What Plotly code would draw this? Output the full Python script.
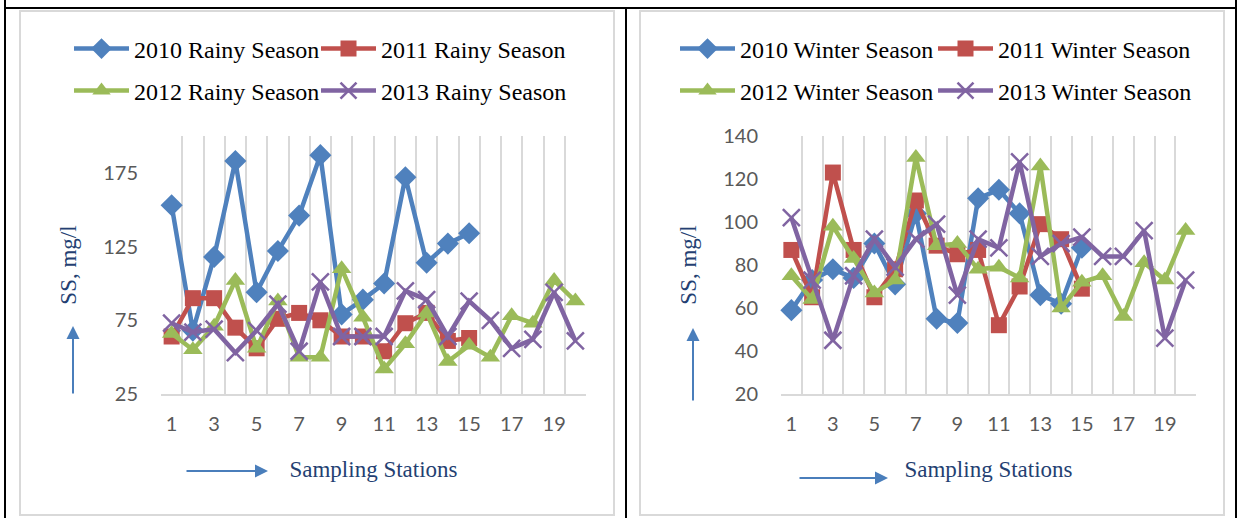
import plotly.graph_objects as go

W, H = 1239, 518

stations = list(range(1, 21))
x_ticks = [1, 3, 5, 7, 9, 11, 13, 15, 17, 19]

rainy_names = ["2010 Rainy Season", "2011 Rainy Season", "2012 Rainy Season", "2013 Rainy Season"]
rainy_2010 = [153, 68, 118, 183, 94, 122, 146, 187, 79, 89, 100, 172, 114, 127, 134]
rainy_2011 = [64, 90, 90, 70, 56, 76, 80, 75, 64, 64, 54, 73, 80, 61, 63]
rainy_2012 = [66, 55, 71, 102, 56, 88, 50, 50, 110, 77, 42, 59, 80, 47, 58, 50, 78, 73, 102, 88]
rainy_2013 = [73, 67, 69, 53, 68, 86, 54, 101, 64, 64, 64, 95, 89, 64, 88, 75, 56, 62, 94, 61]

winter_names = ["2010 Winter Season", "2011 Winter Season", "2012 Winter Season", "2013 Winter Season"]
winter_2010 = [59, 73, 78, 74, 90, 71, 104, 55, 53, 111, 115, 104, 66, 62, 88]
winter_2011 = [87, 65, 123, 87, 65, 78, 110, 89, 85, 87, 52, 70, 99, 92, 69]
winter_2012 = [75, 64, 98, 83, 67, 73, 130, 89, 90, 78, 79, 74, 126, 60, 72, 75, 56, 81, 73, 96]
winter_2013 = [102, 73, 45, 75, 92, 79, 92, 99, 66, 92, 88, 128, 84, 90, 93, 84, 84, 96, 46, 73]

y_left_ticks = [25, 75, 125, 175]
y_right_ticks = [20, 40, 60, 80, 100, 120, 140]

colors = ["#4F81BD", "#C0504D", "#9BBB59", "#8064A2"]
symbols = ["diamond", "square", "triangle-up", "x-thin"]
msizes = [17, 16, 17, 17]

def px(x):
    return x / W

def py(y):
    return 1 - y / H

fig = go.Figure()

def add_series(names, data, xa, ya, legends):
    for i, (nm, vals) in enumerate(zip(names, data)):
        mk = dict(symbol=symbols[i], size=msizes[i], color=colors[i])
        if symbols[i] == "x-thin":
            mk["line"] = dict(color=colors[i], width=2.5)
        fig.add_trace(go.Scatter(
            x=stations[:len(vals)], y=vals, name=nm, mode="lines+markers",
            line=dict(color=colors[i], width=4.5), marker=mk,
            xaxis=xa, yaxis=ya, legend=legends[i], showlegend=True,
            cliponaxis=False,
        ))

add_series(rainy_names, [rainy_2010, rainy_2011, rainy_2012, rainy_2013], "x", "y",
           ["legend", "legend2", "legend3", "legend4"])
add_series(winter_names, [winter_2010, winter_2011, winter_2012, winter_2013], "x2", "y2",
           ["legend5", "legend6", "legend7", "legend8"])

tick_font = dict(family="Lato", size=20, color="#595959")
title_font = dict(family="Liberation Serif", size=23, color="#243F72")

def xaxis_cfg(d0, d1, anchor):
    return dict(
        domain=[d0, d1], anchor=anchor, range=[0.5, 20.5], automargin=False,
        tickmode="array", tickvals=x_ticks, ticktext=[str(v) for v in x_ticks],
        showgrid=False, zeroline=False, ticks="",
        showline=True, linecolor="#D9D9D9", linewidth=2,
        tickfont=tick_font, ticklabelstandoff=11,
        minor=dict(tickmode="array", tickvals=[v + 0.5 for v in range(0, 21)],
                   showgrid=True, gridcolor="#D9D9D9", gridwidth=2, ticks=""),
        title=dict(text="Sampling Stations", font=title_font, standoff=27),
    )

def yaxis_cfg(rng, tv, anchor):
    return dict(
        domain=[py(394), py(136)], anchor=anchor, range=rng, automargin=False,
        tickmode="array", tickvals=tv, ticktext=[str(v) for v in tv],
        showgrid=False, zeroline=False, showline=False, ticks="",
        tickfont=tick_font, ticklabelstandoff=22,
        title=dict(text="SS, mg/l", font=title_font, standoff=20),
    )

fig.update_layout(
    width=W, height=H, showlegend=True,
    margin=dict(l=0, r=0, t=0, b=0, autoexpand=False),
    paper_bgcolor="white", plot_bgcolor="white",
    xaxis=xaxis_cfg(px(161), px(586), "y"),
    yaxis=yaxis_cfg([25, 200], y_left_ticks, "x"),
    xaxis2=xaxis_cfg(px(781), px(1196), "y2"),
    yaxis2=yaxis_cfg([20, 140], y_right_ticks, "x2"),
)

leg_font = dict(family="Liberation Serif", size=24, color="#000000")
def legend_cfg(x, y):
    return dict(orientation="h", x=px(x), y=py(y), xanchor="left", yanchor="middle",
                font=leg_font, bgcolor="rgba(0,0,0,0)", borderwidth=0,
                itemwidth=55, itemclick=False, visible=True)

fig.update_layout(
    legend=legend_cfg(69, 49),
    legend2=legend_cfg(316, 49),
    legend3=legend_cfg(69, 91),
    legend4=legend_cfg(316, 91),
    legend5=legend_cfg(675, 49),
    legend6=legend_cfg(933, 49),
    legend7=legend_cfg(675, 91),
    legend8=legend_cfg(933, 91),
)

shapes = []
# chart frames
for x0, x1 in [(20, 614), (640, 1224)]:
    shapes.append(dict(type="rect", xref="paper", yref="paper", x0=px(x0), x1=px(x1),
                       y0=py(515), y1=py(11), line=dict(color="#D9D9D9", width=2)))
# table borders
black = dict(color="#000000", width=2)
shapes.append(dict(type="line", xref="paper", yref="paper", x0=px(5), x1=px(1236), y0=py(8), y1=py(8), line=black))
shapes.append(dict(type="line", xref="paper", yref="paper", x0=px(5), x1=px(5), y0=py(0), y1=py(518), line=black))
shapes.append(dict(type="line", xref="paper", yref="paper", x0=px(1236), x1=px(1236), y0=py(0), y1=py(518), line=black))
shapes.append(dict(type="line", xref="paper", yref="paper", x0=px(626), x1=px(626), y0=py(8), y1=py(518), line=black))
fig.update_layout(shapes=shapes)

arrow_c = "#4A7EBB"
annos = []
def arrow(tx, ty, sx, sy):
    annos.append(dict(xref="paper", yref="paper", x=px(tx), y=py(ty), ax=sx - tx, ay=sy - ty,
                      axref="pixel", ayref="pixel", text="", showarrow=True,
                      arrowhead=2, arrowsize=1.3, arrowwidth=2, arrowcolor=arrow_c))
arrow(73, 326, 73, 395)
arrow(693, 328, 693, 402)
arrow(268, 471, 185, 471)
arrow(888, 478, 798, 478)
fig.update_layout(annotations=annos)

fig.write_html("out.html", config={"displayModeBar": False},
               post_script="document.body.style.margin='0px';")
